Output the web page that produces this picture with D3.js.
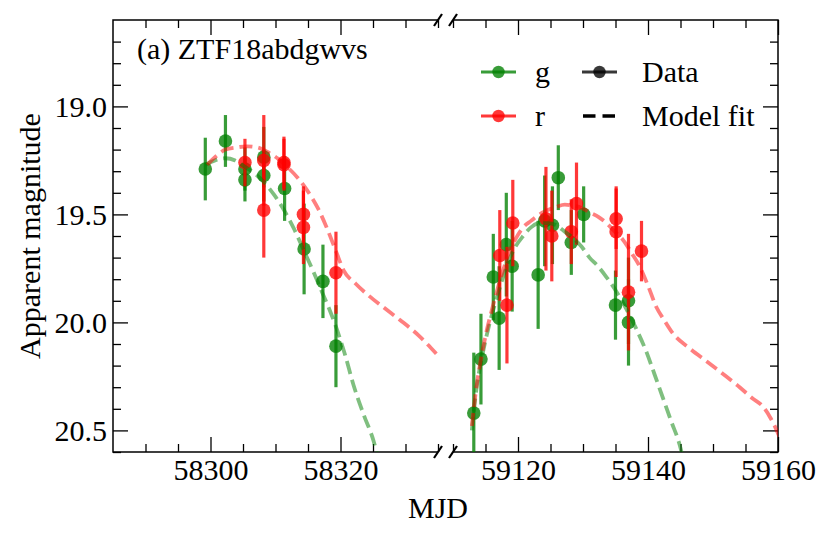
<!DOCTYPE html>
<html>
<head>
<meta charset="utf-8">
<script src="https://cdn.jsdelivr.net/npm/d3@7"></script>
<style>
  html, body { margin: 0; padding: 0; background: #fff; }
  svg { display: block; }
  text { font-family: 'Liberation Serif', 'Times New Roman', serif; fill: #000; }
</style>
</head>
<body>
<svg id="chart" width="831" height="538"></svg>
<script>
// ---------------- data ----------------
const titleText = "(a) ZTF18abdgwvs";
const xLabel = "MJD";
const yLabel = "Apparent magnitude";

// [MJD, magnitude, error]
const gData = [
  [58299.2, 19.29, 0.145], [58302.3, 19.16, 0.12], [58305.3, 19.29, 0.10], [58305.3, 19.34, 0.10],
  [58308.2, 19.235, 0.14], [58308.2, 19.32, 0.12], [58311.4, 19.38, 0.15], [58314.4, 19.66, 0.21],
  [58317.3, 19.81, 0.17], [58319.3, 20.11, 0.19],
  [59113.2, 20.42, 0.28], [59114.3, 20.17, 0.21], [59116.2, 19.79, 0.20], [59117.1, 19.98, 0.24],
  [59118.2, 19.64, 0.24], [59119.1, 19.74, 0.21], [59123.1, 19.78, 0.25], [59124.1, 19.53, 0.21],
  [59125.3, 19.55, 0.18], [59126.2, 19.33, 0.15], [59128.2, 19.63, 0.15], [59130.1, 19.50, 0.13],
  [59135.0, 19.92, 0.16], [59137.0, 19.90, 0.20], [59137.0, 20.00, 0.20]
];
const rData = [
  [58305.3, 19.26, 0.11], [58308.2, 19.25, 0.21], [58308.2, 19.48, 0.22], [58311.3, 19.26, 0.12],
  [58311.3, 19.27, 0.12], [58314.3, 19.50, 0.13], [58314.3, 19.56, 0.17], [58319.3, 19.77, 0.19],
  [59117.2, 19.69, 0.21], [59118.3, 19.92, 0.27], [59119.2, 19.54, 0.20], [59124.3, 19.52, 0.24],
  [59125.2, 19.60, 0.21], [59128.2, 19.58, 0.15], [59129.0, 19.45, 0.19], [59135.1, 19.52, 0.14],
  [59135.1, 19.58, 0.21], [59137.0, 19.86, 0.27], [59139.0, 19.67, 0.14]
];

// model fits [MJD, magnitude]
const gModel = [
  [58299.2, 19.27], [58300.7, 19.25], [58302.3, 19.24], [58303.8, 19.25], [58305.3, 19.28],
  [58306.8, 19.31], [58308.2, 19.35], [58309.8, 19.41], [58311.3, 19.48], [58312.9, 19.57],
  [58314.4, 19.67], [58315.9, 19.77], [58317.3, 19.87], [58318.3, 19.94], [58319.3, 20.02],
  [58320.7, 20.15], [58322.0, 20.29], [58323.6, 20.43], [58325.1, 20.55], [58325.8, 20.63],
  [59112.9, 20.50], [59113.6, 20.31], [59114.6, 20.14], [59115.5, 20.02], [59116.4, 19.92],
  [59117.5, 19.81], [59118.5, 19.72], [59119.6, 19.65], [59120.8, 19.60], [59122.0, 19.56],
  [59123.3, 19.54], [59124.6, 19.54], [59125.9, 19.55], [59127.2, 19.58], [59128.5, 19.61],
  [59129.8, 19.65], [59131.0, 19.70], [59132.3, 19.74], [59133.6, 19.79], [59135.2, 19.86],
  [59136.7, 19.94], [59138.2, 20.03], [59139.8, 20.14], [59141.0, 20.24], [59142.3, 20.35],
  [59143.6, 20.46], [59144.9, 20.57], [59145.4, 20.63]
];
const rModel = [
  [58299.5, 19.27], [58300.9, 19.23], [58302.3, 19.20], [58304.0, 19.19], [58305.6, 19.185],
  [58307.2, 19.19], [58308.7, 19.21], [58310.3, 19.24], [58311.8, 19.28], [58313.4, 19.33],
  [58314.9, 19.39], [58316.5, 19.47], [58318.0, 19.57], [58319.3, 19.67], [58320.5, 19.76],
  [58322.3, 19.82], [58324.1, 19.87], [58326.6, 19.93], [58329.2, 19.99], [58332.0, 20.06],
  [58334.9, 20.15],
  [59112.9, 20.48], [59113.6, 20.30], [59114.3, 20.17], [59115.1, 20.05], [59116.0, 19.94],
  [59116.9, 19.84], [59117.8, 19.75], [59118.7, 19.67], [59119.7, 19.61], [59120.8, 19.56],
  [59122.0, 19.53], [59123.3, 19.50], [59124.6, 19.48], [59125.9, 19.465], [59127.2, 19.455],
  [59128.5, 19.46], [59129.8, 19.47], [59131.0, 19.49], [59132.3, 19.51], [59133.6, 19.54],
  [59134.9, 19.58], [59136.2, 19.62], [59137.5, 19.68], [59138.7, 19.74], [59140.0, 19.83],
  [59141.3, 19.93], [59142.5, 19.99], [59143.8, 20.05], [59146.4, 20.12], [59149.0, 20.18],
  [59151.6, 20.24], [59154.1, 20.30], [59156.0, 20.35], [59157.7, 20.39], [59158.8, 20.44],
  [59159.8, 20.50], [59160.5, 20.55]
];

const leftDomain = [58285, 58335];
const rightDomain = [59110, 59160];
const yDomain = [18.6, 20.6];
const xMajorLeft = [58300, 58320];
const xMajorRight = [59120, 59140, 59160];
const yMajorTicks = [19.0, 19.5, 20.0, 20.5];

const bands = [
  { name: "g", color: "green", data: gData, model: gModel },
  { name: "r", color: "red", data: rData, model: rModel }
];

(function draw() {
const svg = d3.select("#chart");
const yTop = 20, yBot = 452;
const L = { x0: 113, x1: 438 };
const R = { x0: 453, x1: 778 };

const xL = d3.scaleLinear().domain(leftDomain).range([L.x0, L.x1]);
const xR = d3.scaleLinear().domain(rightDomain).range([R.x0, R.x1]);
const y = d3.scaleLinear().domain(yDomain).range([yTop, yBot]);

const seq = (a, b, s) => d3.range(a, b + s / 2, s).map(v => +v.toFixed(4));
const xMinorLeft = seq(leftDomain[0] + 5, leftDomain[1], 5).filter(v => !xMajorLeft.includes(v));
const xMinorRight = seq(rightDomain[0], rightDomain[1], 5).filter(v => !xMajorRight.includes(v));
const yMinorTicks = seq(18.7, 20.6, 0.1).filter(v => !yMajorTicks.some(m => Math.abs(m - v) < 1e-6));

const defs = svg.append("defs");
defs.append("clipPath").attr("id", "clipL").append("rect")
  .attr("x", L.x0).attr("y", yTop).attr("width", L.x1 - L.x0).attr("height", yBot - yTop);
defs.append("clipPath").attr("id", "clipR").append("rect")
  .attr("x", R.x0).attr("y", yTop).attr("width", R.x1 - R.x0).attr("height", yBot - yTop);

const panels = [
  { id: "L", x: xL, domain: leftDomain, clip: "url(#clipL)" },
  { id: "R", x: xR, domain: rightDomain, clip: "url(#clipR)" }
];

const tickStyle = g => {
  g.select(".domain").remove();
  g.selectAll(".tick line").attr("stroke", "#000").attr("stroke-width", 1.3);
  g.selectAll(".tick text").style("font-size", "30px").attr("fill", "#000")
    .style("font-family", "'Liberation Serif', 'Times New Roman', serif");
};

panels.forEach(p => {
  const majors = p.id === "L" ? xMajorLeft : xMajorRight;
  const minors = p.id === "L" ? xMinorLeft : xMinorRight;
  svg.append("g").attr("transform", `translate(0,${yBot})`)
    .call(d3.axisBottom(p.x).tickValues(majors).tickSize(-15).tickPadding(7).tickFormat(d3.format("d")))
    .call(tickStyle);
  svg.append("g").attr("transform", `translate(0,${yBot})`)
    .call(d3.axisBottom(p.x).tickValues(minors).tickSize(-8).tickFormat(""))
    .call(tickStyle);
  svg.append("g").attr("transform", `translate(0,${yTop})`)
    .call(d3.axisTop(p.x).tickValues(majors).tickSize(-15).tickFormat(""))
    .call(tickStyle);
  svg.append("g").attr("transform", `translate(0,${yTop})`)
    .call(d3.axisTop(p.x).tickValues(minors).tickSize(-8).tickFormat(""))
    .call(tickStyle);
});
svg.append("g").attr("transform", `translate(${L.x0},0)`)
  .call(d3.axisLeft(y).tickValues(yMajorTicks).tickSize(-15).tickPadding(6).tickFormat(d3.format(".1f")))
  .call(tickStyle);
svg.append("g").attr("transform", `translate(${L.x0},0)`)
  .call(d3.axisLeft(y).tickValues(yMinorTicks).tickSize(-8).tickFormat(""))
  .call(tickStyle);
svg.append("g").attr("transform", `translate(${R.x1},0)`)
  .call(d3.axisRight(y).tickValues(yMajorTicks).tickSize(-15).tickFormat(""))
  .call(tickStyle);
svg.append("g").attr("transform", `translate(${R.x1},0)`)
  .call(d3.axisRight(y).tickValues(yMinorTicks).tickSize(-8).tickFormat(""))
  .call(tickStyle);

const frame = svg.append("g").attr("stroke", "#000").attr("stroke-width", 1.5).attr("fill", "none");
frame.append("path").attr("d", `M${L.x1},${yTop}H${L.x0}V${yBot}H${L.x1}`);
frame.append("path").attr("d", `M${R.x0},${yTop}H${R.x1}V${yBot}H${R.x0}`);

const brk = svg.append("g").attr("stroke", "#000").attr("stroke-width", 2.2);
[L.x1, R.x0].forEach(bx => {
  [yTop, yBot].forEach(by => {
    brk.append("line").attr("x1", bx - 4).attr("y1", by + 6).attr("x2", bx + 4).attr("y2", by - 6);
  });
});

panels.forEach(p => {
  const g = svg.append("g").attr("clip-path", p.clip);
  const inPanel = d => d[0] >= p.domain[0] - 1 && d[0] <= p.domain[1] + 1;
  bands.forEach(b => {
    const pts = b.data.filter(inPanel);
    pts.forEach(d => {
      g.append("line")
        .attr("x1", p.x(d[0])).attr("x2", p.x(d[0]))
        .attr("y1", y(d[1] - d[2])).attr("y2", y(d[1] + d[2]))
        .attr("stroke", b.color).attr("stroke-opacity", 0.78).attr("stroke-width", 3.2);
      g.append("circle")
        .attr("cx", p.x(d[0])).attr("cy", y(d[1])).attr("r", 6.8)
        .attr("fill", b.color).attr("fill-opacity", 0.78);
    });
  });
  bands.forEach(b => {
    const m = b.model.filter(inPanel);
    g.append("path").datum(m)
      .attr("d", d3.line().x(d => p.x(d[0])).y(d => y(d[1])).curve(d3.curveMonotoneX))
      .attr("fill", "none").attr("stroke", b.color).attr("stroke-opacity", 0.5)
      .attr("stroke-width", 3.8).attr("stroke-dasharray", "13,6");
  });
});

svg.append("text").attr("x", 137).attr("y", 59).style("font-size", "30px").text(titleText);

const legendRows = [
  { color: "green", label: "g", col: 0, row: 0, type: "point" },
  { color: "red", label: "r", col: 0, row: 1, type: "point" },
  { color: "black", label: "Data", col: 1, row: 0, type: "point" },
  { color: "black", label: "Model fit", col: 1, row: 1, type: "dash" }
];
const lg = svg.append("g");
const colX = [481, 582], textX = [535, 642], rowY = [72, 116];
legendRows.forEach(e => {
  const x0 = colX[e.col], yy = rowY[e.row];
  if (e.type === "point") {
    lg.append("line").attr("x1", x0).attr("x2", x0 + 35).attr("y1", yy).attr("y2", yy)
      .attr("stroke", e.color).attr("stroke-opacity", 0.78).attr("stroke-width", 3);
    lg.append("circle").attr("cx", x0 + 17.5).attr("cy", yy).attr("r", 6.2)
      .attr("fill", e.color).attr("fill-opacity", 0.78);
  } else {
    lg.append("line").attr("x1", x0 + 1).attr("x2", x0 + 34).attr("y1", yy).attr("y2", yy)
      .attr("stroke", e.color).attr("stroke-width", 3.5).attr("stroke-dasharray", "12.5,7");
  }
  lg.append("text").attr("x", textX[e.col]).attr("y", yy).attr("dy", "0.33em")
    .style("font-size", "30px").text(e.label);
});

svg.append("text").attr("x", 438).attr("y", 518).attr("text-anchor", "middle")
  .style("font-size", "30px").text(xLabel);
svg.append("text").attr("transform", `translate(40,${(yTop + yBot) / 2}) rotate(-90)`)
  .attr("text-anchor", "middle").style("font-size", "30px").text(yLabel);
})();
</script>
</body>
</html>
